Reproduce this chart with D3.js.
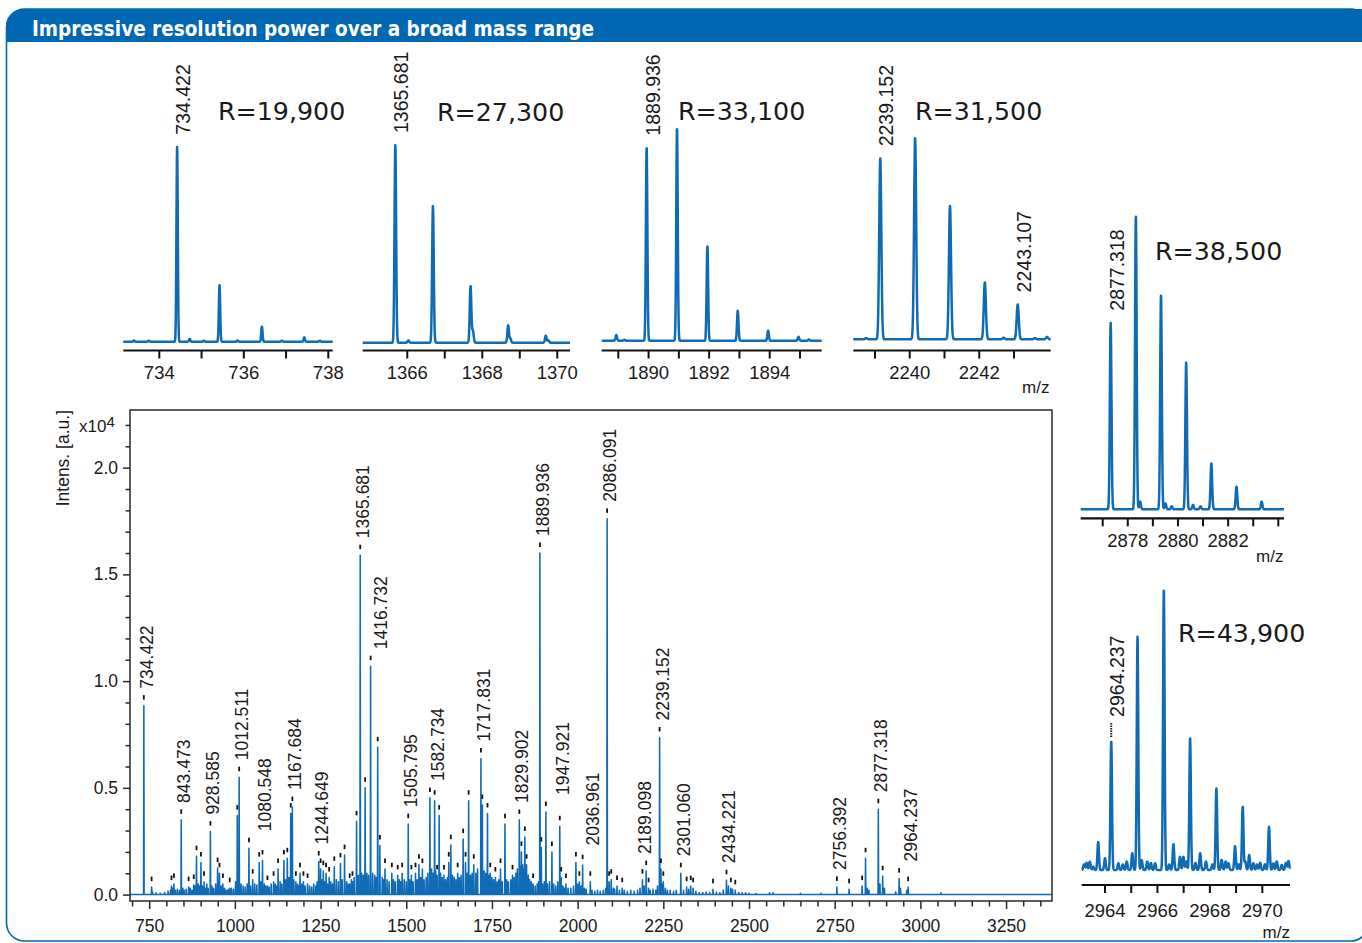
<!DOCTYPE html>
<html>
<head>
<meta charset="utf-8">
<script src="https://cdn.jsdelivr.net/npm/d3@7"></script>
<style>
  html, body { margin: 0; padding: 0; background: #fff; }
  svg { display: block; }
  text { font-family: "Liberation Sans", Arial, Helvetica, sans-serif; fill: #1a1a1a; }
</style>
</head>
<body>
<svg id="fig" width="1362" height="943"></svg>
<script>
// ---------------- data ----------------
// Main spectrum: [m/z, intensity x10^4]
const mainLabeled = [
  [734.422, 0.885], [843.473, 0.35], [928.585, 0.295], [1012.511, 0.55], [1080.548, 0.16],
  [1167.684, 0.41], [1244.649, 0.155], [1365.681, 1.59], [1416.732, 0.69], [1505.795, 0.33],
  [1582.734, 0.44], [1717.831, 0.637], [1829.902, 0.35], [1889.936, 1.60], [1947.921, 0.32],
  [2036.961, 0.06], [2086.091, 1.76], [2189.098, 0.07], [2239.152, 0.736], [2301.060, 0.10],
  [2434.221, 0.067], [2756.392, 0.036], [2877.318, 0.40], [2964.237, 0.035]
];
const mainMarked = [
  [757, 0.035], [815, 0.04], [822, 0.05], [865, 0.035], [880, 0.045], [888, 0.18], [901, 0.15],
  [910, 0.06], [949.6, 0.124], [955, 0.10], [965, 0.05], [985, 0.03], [1007, 0.37], [1041, 0.217],
  [1052, 0.07], [1071, 0.15], [1095, 0.04], [1113, 0.06], [1126, 0.12], [1143, 0.16], [1153, 0.17],
  [1163, 0.38], [1178, 0.06], [1190, 0.10], [1200, 0.06], [1212, 0.05], [1250, 0.12], [1258, 0.11],
  [1266, 0.10], [1275, 0.08], [1290, 0.13], [1308, 0.146], [1320, 0.185], [1335, 0.05], [1343, 0.06],
  [1355, 0.343], [1380, 0.50], [1396, 1.07], [1423, 0.23], [1438, 0.12], [1458, 0.10], [1475, 0.09],
  [1488, 0.10], [1515, 0.09], [1527, 0.10], [1537, 0.14], [1547, 0.12], [1569, 0.453], [1590, 0.09],
  [1596, 0.37], [1610, 0.09], [1624, 0.15], [1630, 0.232], [1650, 0.10], [1666, 0.26], [1673, 0.15],
  [1682, 0.44], [1697, 0.14], [1722, 0.42], [1737, 0.38], [1745, 0.10], [1760, 0.08], [1775, 0.12],
  [1788, 0.33], [1810, 0.09], [1836, 0.20], [1846, 0.27], [1851, 0.14], [1870, 0.05], [1894, 0.22],
  [1907.5, 0.387], [1925, 0.20], [1952, 0.08], [1966, 0.05], [1995, 0.15], [2005, 0.06], [2014.6, 0.138],
  [2092, 0.06], [2098, 0.07], [2115, 0.04], [2130, 0.03], [2200, 0.11], [2207, 0.03], [2243, 0.12],
  [2250, 0.06], [2318, 0.035], [2330, 0.04], [2337, 0.03], [2395, 0.025], [2447, 0.03], [2460, 0.02],
  [2792, 0.025], [2830, 0.04], [2840, 0.17], [2890, 0.086], [2938, 0.075]
];
// Low-level unannotated signal
const grassPeaks = [
  [760, 0.012], [770, 0.008], [782, 0.006], [795, 0.01], [805, 0.015], [812, 0.02], [818, 0.03], [826, 0.02],
  [832, 0.025], [838, 0.02], [848, 0.03], [852, 0.02], [858, 0.025], [870, 0.03], [875, 0.02], [884, 0.04],
  [893, 0.05], [897, 0.04], [905, 0.04], [914, 0.03], [918, 0.05], [922, 0.03], [933, 0.04], [938, 0.03],
  [944, 0.05], [960, 0.04], [970, 0.03], [975, 0.02], [980, 0.025], [990, 0.03], [996, 0.025], [1002, 0.06],
  [1018, 0.05], [1024, 0.04], [1030, 0.035], [1036, 0.05], [1046, 0.04], [1058, 0.05], [1064, 0.045],
  [1076, 0.06], [1086, 0.05], [1090, 0.04], [1100, 0.035], [1106, 0.05], [1118, 0.05], [1122, 0.04],
  [1132, 0.06], [1137, 0.05], [1148, 0.07], [1158, 0.08], [1172, 0.07], [1183, 0.05], [1186, 0.04],
  [1195, 0.05], [1205, 0.04], [1218, 0.04], [1224, 0.035], [1230, 0.05], [1236, 0.04], [1240, 0.06],
  [1253, 0.07], [1262, 0.06], [1270, 0.05], [1280, 0.06], [1285, 0.05], [1296, 0.07], [1302, 0.06],
  [1313, 0.07], [1326, 0.06], [1330, 0.05], [1340, 0.07], [1348, 0.08], [1360, 0.09], [1370, 0.10],
  [1375, 0.09], [1385, 0.10], [1390, 0.09], [1402, 0.10], [1408, 0.09], [1412, 0.08], [1430, 0.08],
  [1434, 0.07], [1444, 0.07], [1450, 0.06], [1463, 0.07], [1468, 0.06], [1480, 0.07], [1484, 0.06],
  [1494, 0.07], [1500, 0.06], [1510, 0.07], [1520, 0.06], [1532, 0.07], [1542, 0.08], [1552, 0.07],
  [1558, 0.08], [1563, 0.10], [1574, 0.12], [1578, 0.10], [1586, 0.11], [1600, 0.10], [1605, 0.08],
  [1615, 0.07], [1620, 0.08], [1635, 0.09], [1640, 0.08], [1645, 0.07], [1655, 0.08], [1660, 0.09],
  [1677, 0.10], [1687, 0.09], [1692, 0.10], [1703, 0.10], [1708, 0.12], [1727, 0.11], [1732, 0.10],
  [1742, 0.09], [1750, 0.08], [1755, 0.07], [1765, 0.06], [1770, 0.07], [1780, 0.06], [1793, 0.07],
  [1798, 0.06], [1805, 0.07], [1815, 0.08], [1820, 0.10], [1824, 0.12], [1833, 0.13], [1840, 0.14],
  [1843, 0.12], [1849, 0.11], [1856, 0.09], [1860, 0.07], [1865, 0.06], [1876, 0.04], [1882, 0.05],
  [1886, 0.06], [1898, 0.05], [1903, 0.06], [1912, 0.05], [1918, 0.06], [1930, 0.05], [1936, 0.04],
  [1942, 0.06], [1957, 0.04], [1962, 0.03], [1972, 0.03], [1980, 0.03], [1988, 0.04], [2000, 0.05],
  [2010, 0.04], [2020, 0.03], [2025, 0.025], [2042, 0.02], [2050, 0.015], [2058, 0.02], [2066, 0.015],
  [2075, 0.02], [2082, 0.03], [2104, 0.03], [2108, 0.025], [2122, 0.02], [2136, 0.02], [2145, 0.015],
  [2155, 0.02], [2165, 0.015], [2175, 0.02], [2182, 0.03], [2194, 0.04], [2212, 0.02], [2220, 0.025],
  [2228, 0.02], [2233, 0.04], [2246, 0.05], [2256, 0.03], [2262, 0.02], [2270, 0.02], [2280, 0.015],
  [2288, 0.02], [2309, 0.02], [2324, 0.025], [2345, 0.015], [2355, 0.01], [2365, 0.01], [2375, 0.012],
  [2385, 0.01], [2405, 0.012], [2415, 0.01], [2425, 0.02], [2440, 0.04], [2452, 0.025], [2470, 0.01],
  [2480, 0.008], [2490, 0.008], [2500, 0.006], [2520, 0.005], [2560, 0.008], [2570, 0.008], [2650, 0.006],
  [2710, 0.006], [2845, 0.03], [2850, 0.02], [2882, 0.05], [2895, 0.03], [2928, 0.012], [2942, 0.03],
  [2960, 0.02], [3060, 0.008]
];
const mainYTicks = [0, 0.5, 1.0, 1.5, 2.0];
const mainXLabels = [750, 1000, 1250, 1500, 1750, 2000, 2250, 2500, 2750, 3000, 3250];

// Zoomed isotope patterns: [m/z, relative intensity]
const iso734 = [[733.40, 0.006], [733.75, 0.005], [734.422, 1.000], [734.72, 0.015], [735.05, 0.005],
                [735.425, 0.289], [735.85, 0.006], [736.428, 0.077], [736.9, 0.005], [737.431, 0.022], [737.8, 0.005]];
const iso1365 = [[1365.681, 1.014], [1366.03, 0.012], [1366.684, 0.703], [1367.687, 0.291], [1367.75, 0.06],
                 [1368.690, 0.089], [1368.75, 0.02], [1369.693, 0.036], [1369.76, 0.012]];
const iso1889 = [[1888.933, 0.029], [1889.2, 0.005], [1889.936, 0.990], [1890.939, 1.092], [1891.942, 0.486],
                 [1892.945, 0.154], [1893.948, 0.051], [1894.951, 0.020], [1895.3, 0.006]];
const iso2239 = [[2238.75, 0.006], [2239.152, 0.928], [2240.155, 1.031], [2241.158, 0.686], [2242.161, 0.292],
                 [2242.7, 0.008], [2243.107, 0.179], [2243.6, 0.006], [2243.95, 0.012]];
const iso2877 = [[2877.318, 0.634], [2878.321, 1.000], [2878.49, 0.026], [2879.324, 0.728], [2879.5, 0.02],
                 [2879.75, 0.01], [2880.327, 0.498], [2880.6, 0.015], [2880.9, 0.01], [2881.330, 0.156],
                 [2882.333, 0.077], [2883.336, 0.026]];
const iso2964 = [[2964.237, 0.460], [2965.240, 0.831], [2966.243, 1.000], [2967.246, 0.469], [2968.249, 0.291],
                 [2969.252, 0.226], [2970.255, 0.154]];
const noise2964 = [
  [2963.20, 0.02], [2963.30, 0.026], [2963.42, 0.03], [2963.55, 0.012], [2963.74, 0.10], [2964.0, 0.042],
  [2964.51, 0.024], [2964.68, 0.02], [2964.83, 0.03], [2965.04, 0.06], [2965.40, 0.035], [2965.61, 0.03],
  [2965.75, 0.025], [2965.91, 0.024], [2966.45, 0.02], [2966.61, 0.092], [2966.86, 0.047], [2966.99, 0.047],
  [2967.10, 0.03], [2967.45, 0.025], [2967.63, 0.06], [2967.85, 0.03], [2968.10, 0.02], [2968.45, 0.036],
  [2968.60, 0.03], [2968.71, 0.024], [2968.96, 0.085], [2969.10, 0.02], [2969.35, 0.03], [2969.50, 0.053],
  [2969.66, 0.024], [2969.80, 0.02], [2969.92, 0.026], [2970.10, 0.02], [2970.42, 0.024], [2970.55, 0.03],
  [2970.74, 0.018], [2970.90, 0.025], [2971.0, 0.032]
];
const resolutions = [19900, 27300, 33100, 31500, 38500, 43900];
const ticks734 = [734, 735, 736, 737, 738], tickLabels734 = [734, 736, 738];
const ticks1365 = [1366, 1367, 1368, 1369, 1370], tickLabels1365 = [1366, 1368, 1370];
const ticks1889 = [1889, 1890, 1891, 1892, 1893, 1894, 1895], tickLabels1889 = [1890, 1892, 1894];
const ticks2239 = [2239, 2240, 2241, 2242, 2243], tickLabels2239 = [2240, 2242];
const ticks2877 = [2877, 2878, 2879, 2880, 2881, 2882, 2883, 2884], tickLabels2877 = [2878, 2880, 2882];
const ticks2964 = [2964, 2965, 2966, 2967, 2968, 2969, 2970], tickLabels2964 = [2964, 2966, 2968, 2970];

// ---------------- drawing ----------------
const BLUE = "#0068b3";
const TRACE = "#0f6bb5";
const svg = d3.select("#fig");
const fmt3 = d3.format(".3f");

// panel frame and title bar
svg.append("rect").attr("x", 6.5).attr("y", 9).attr("width", 1362).attr("height", 932)
  .attr("rx", 18).attr("fill", "none").attr("stroke", BLUE).attr("stroke-width", 1.6);
svg.append("path")
  .attr("d", "M6,42 L6,27 A18,18 0 0 1 24,9 L1380,9 L1380,42 Z")
  .attr("fill", BLUE);
svg.append("text").attr("x", 32).attr("y", 36)
  .style("font-family", "'Liberation Sans Narrow','DejaVu Sans Condensed','Roboto Condensed',sans-serif")
  .style("font-weight", "bold").style("font-size", "20.5px").style("fill", "#fff")
  .attr("textLength", 562).attr("lengthAdjust", "spacingAndGlyphs")
  .text("Impressive resolution power over a broad mass range");

// ---- main overview spectrum ----
const frame = { left: 130, right: 1052, top: 410, bottom: 901 };
const xMain = d3.scaleLinear().domain([694, 3384]).range([frame.left, frame.right]);
const yMain = d3.scaleLinear().domain([-0.03, 2.27]).range([frame.bottom, frame.top]);

const gMain = svg.append("g");
const annotated = [...mainLabeled, ...mainMarked];
const everyPeak = [...annotated, ...grassPeaks].sort((a, b) => a[0] - b[0]);
const stickPts = [[xMain.domain()[0], 0]];
everyPeak.forEach(([m, h]) => { stickPts.push([m - 0.8, 0], [m, h], [m + 0.8, 0]); });
stickPts.push([xMain.domain()[1], 0]);
const lineMain = d3.line().x(d => xMain(d[0])).y(d => yMain(d[1]));
gMain.append("path").attr("d", lineMain(stickPts))
  .attr("fill", TRACE).attr("stroke", TRACE).attr("stroke-width", 1.55)
  .attr("stroke-linejoin", "round");

// peak markers
gMain.selectAll("line.mark").data(annotated).join("line").attr("class", "mark")
  .attr("x1", d => xMain(d[0])).attr("x2", d => xMain(d[0]))
  .attr("y1", d => yMain(d[1]) - 10.5).attr("y2", d => yMain(d[1]) - 6)
  .attr("stroke", "#111").attr("stroke-width", 1.8);

// peak labels, lifted above taller neighbours
mainLabeled.forEach(([m, h]) => {
  const level = d3.max(annotated.filter(d => d[0] >= m - 42 && d[0] <= m + 25), d => d[1]);
  gMain.append("text")
    .attr("transform", `translate(${xMain(m) + 9},${yMain(level) - 17}) rotate(-90)`)
    .style("font-size", "17.5px").text(fmt3(m));
});

// frame
svg.append("rect").attr("x", frame.left).attr("y", frame.top)
  .attr("width", frame.right - frame.left).attr("height", frame.bottom - frame.top)
  .attr("fill", "none").attr("stroke", "#2a2a2a").attr("stroke-width", 1.5);

// x axis
const minorX = d3.range(700, 3351, 50).filter(v => !mainXLabels.includes(v));
const gxMinor = svg.append("g").attr("transform", `translate(0,${frame.bottom})`)
  .call(d3.axisBottom(xMain).tickValues(minorX).tickSize(5.5).tickFormat(""));
const gxMajor = svg.append("g").attr("transform", `translate(0,${frame.bottom})`)
  .call(d3.axisBottom(xMain).tickValues(mainXLabels).tickSize(8).tickPadding(11).tickFormat(d3.format("d")));
// y axis
const minorY = d3.range(1, 23).map(i => i / 10).filter(v => !mainYTicks.some(t => Math.abs(t - v) < 1e-6));
const gyMinor = svg.append("g").attr("transform", `translate(${frame.left},0)`)
  .call(d3.axisLeft(yMain).tickValues(minorY).tickSize(4.5).tickFormat(""));
const gyMajor = svg.append("g").attr("transform", `translate(${frame.left},0)`)
  .call(d3.axisLeft(yMain).tickValues(mainYTicks).tickSize(7).tickPadding(5).tickFormat(d3.format(".1f")));
[gxMinor, gxMajor, gyMinor, gyMajor].forEach(g => {
  g.select(".domain").remove();
  g.selectAll(".tick line").attr("stroke", "#2a2a2a").attr("stroke-width", 1.5);
  g.selectAll(".tick text").style("font-size", "17.5px").style("font-family", "'Liberation Sans',Arial,sans-serif").attr("fill", "#1a1a1a");
});
gxMajor.selectAll(".tick text").attr("dy", "0.71em");

svg.append("text").attr("transform", "translate(69,410) rotate(-90)")
  .attr("text-anchor", "end").style("font-size", "17.5px").text("Intens. [a.u.]");
const xlab = svg.append("text").attr("x", 79).attr("y", 431.5).style("font-size", "17px");
xlab.append("tspan").text("x10");
xlab.append("tspan").attr("dy", -5).style("font-size", "15px").text("4");

// ---- zoomed isotope panels ----
const insets = [
  { data: iso734, R: resolutions[0], x0: 123.3, x1: 332.7, dom: [733.148, 738.104], base: 341.7, unit: 195,
    axisY: 350.5, ticks: ticks734, tickLabels: tickLabels734, labelY: 378.5, rX: 218, rY: 119.5, marked: [734.422] },
  { data: iso1365, R: resolutions[1], x0: 362.7, x1: 570, dom: [1364.811, 1370.339], base: 342.7, unit: 195,
    axisY: 350.5, ticks: ticks1365, tickLabels: tickLabels1365, labelY: 378.5, rX: 437, rY: 120.5, marked: [1365.681] },
  { data: iso1889, R: resolutions[2], x0: 601.7, x1: 821.7, dom: [1888.452, 1895.717], base: 340.7, unit: 195,
    axisY: 350.5, ticks: ticks1889, tickLabels: tickLabels1889, labelY: 378.5, rX: 678, rY: 120, marked: [1889.936] },
  { data: iso2239, R: resolutions[3], x0: 853.3, x1: 1050.7, dom: [2238.376, 2244.056], base: 339.3, unit: 195,
    axisY: 350.5, ticks: ticks2239, tickLabels: tickLabels2239, labelY: 378.5, rX: 915, rY: 120,
    marked: [2239.152, 2243.107], mz: [1049.5, 393] },
  { data: iso2877, R: resolutions[4], x0: 1080.7, x1: 1284, dom: [2876.123, 2884.227], base: 509.3, unit: 294.3,
    axisY: 518.3, ticks: ticks2877, tickLabels: tickLabels2877, labelY: 546.7, rX: 1155, rY: 260,
    marked: [2877.318], mz: [1283.5, 562] },
  { data: iso2964.concat(noise2964), R: resolutions[5], x0: 1081.7, x1: 1290, dom: [2963.111, 2971.056], base: 870,
    unit: 280.7, axisY: 885, ticks: ticks2964, tickLabels: tickLabels2964, labelY: 916.7, rX: 1178, rY: 641.7,
    marked: [2964.237], dotted: true, mz: [1290, 938] }
];

insets.forEach(p => {
  const g = svg.append("g");
  const x = d3.scaleLinear().domain(p.dom).range([p.x0, p.x1]);
  const y = d3.scaleLinear().domain([0, 1]).range([p.base, p.base - p.unit]);
  // Gaussian peak profiles, FWHM = m / R
  const n = Math.round((p.x1 - p.x0) * 5);
  const prof = d3.range(n + 1).map(i => {
    const m = p.dom[0] + (p.dom[1] - p.dom[0]) * i / n;
    let v = 0;
    p.data.forEach(([c, h]) => {
      const s = c / p.R / 2.3548;
      v += h * Math.exp(-0.5 * ((m - c) / s) ** 2);
    });
    return [m, v];
  });
  g.append("path").attr("d", d3.line().x(d => x(d[0])).y(d => y(d[1]))(prof))
    .attr("fill", "none").attr("stroke", TRACE).attr("stroke-width", 2.5).attr("stroke-linejoin", "round");

  // axis
  g.append("line").attr("x1", p.x0).attr("x2", p.x1).attr("y1", p.axisY).attr("y2", p.axisY)
    .attr("stroke", "#111").attr("stroke-width", 2.2);
  g.selectAll("line.tk").data(p.ticks).join("line").attr("class", "tk")
    .attr("x1", d => x(d)).attr("x2", d => x(d)).attr("y1", p.axisY).attr("y2", p.axisY + 8)
    .attr("stroke", "#111").attr("stroke-width", 2);
  g.selectAll("text.tl").data(p.tickLabels).join("text").attr("class", "tl")
    .attr("x", d => x(d)).attr("y", p.labelY).attr("text-anchor", "middle")
    .style("font-size", "18.5px").text(d => d);

  // annotated peaks
  p.marked.forEach(m => {
    const h = d3.max(p.data.filter(d => Math.abs(d[0] - m) < 0.05), d => d[1]);
    const top = y(h);
    if (p.dotted) {
      g.append("line").attr("x1", x(m)).attr("x2", x(m)).attr("y1", top - 4).attr("y2", top - 19)
        .attr("stroke", "#222").attr("stroke-width", 2).attr("stroke-dasharray", "1.3,1.2");
    }
    g.append("text")
      .attr("transform", `translate(${x(m) + 13},${top - (p.dotted ? 24 : 12)}) rotate(-90)`)
      .style("font-size", "19.5px").text(fmt3(m));
  });

  // resolving power
  g.append("text").attr("x", p.rX).attr("y", p.rY)
    .style("font-family", "'DejaVu Sans',Verdana,sans-serif").style("font-size", "25.3px")
    .text("R=" + d3.format(",")(p.R));

  if (p.mz) {
    g.append("text").attr("x", p.mz[0]).attr("y", p.mz[1]).attr("text-anchor", "end")
      .style("font-size", "17px").text("m/z");
  }
});
</script>
</body>
</html>
